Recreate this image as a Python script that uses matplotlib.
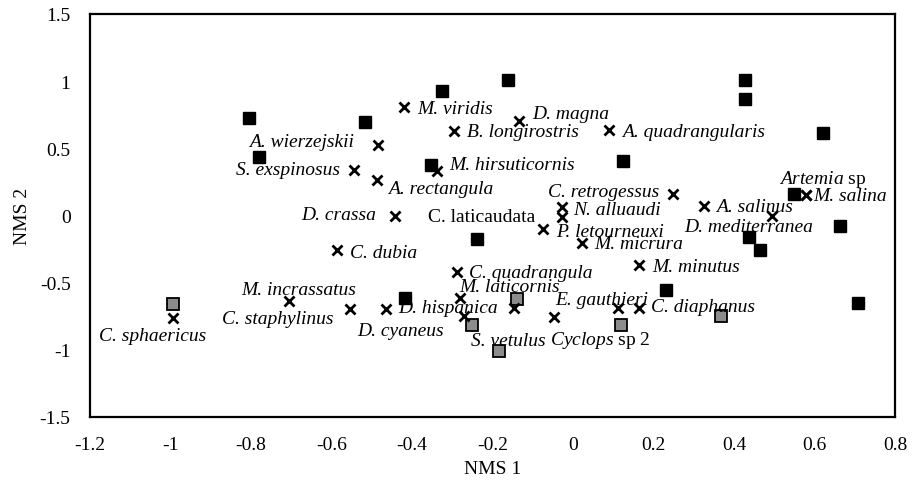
import matplotlib
matplotlib.use("Agg")
import matplotlib.pyplot as plt

plt.rcParams["font.family"] = ["Liberation Serif", "DejaVu Serif"]
plt.rcParams["mathtext.fontset"] = "custom"
plt.rcParams["mathtext.rm"] = "Liberation Serif"
plt.rcParams["mathtext.it"] = "Liberation Serif:italic"

# sample scores (black = group 1, grey = group 2)
site_x = [-0.805, -0.780, -0.517, -0.325, -0.161, -0.353, 0.124, 0.427, 0.427,
          0.621, 0.549, 0.663, 0.437, 0.465, -0.239, -0.417, 0.231, 0.708]
site_y = [0.726, 0.436, 0.696, 0.927, 1.009, 0.376, 0.406, 1.009, 0.867,
          0.614, 0.160, -0.078, -0.160, -0.257, -0.175, -0.614, -0.555, -0.651]
grey_x = [-0.994, -0.251, -0.184, -0.139, 0.119, 0.368]
grey_y = [-0.659, -0.815, -1.009, -0.622, -0.815, -0.748]

# species scores
species = ["M. viridis", "D. magna", "B. longirostris", "A. quadrangularis",
           "A. wierzejskii", "S. exspinosus", "A. rectangula", "M. hirsuticornis",
           "D. crassa", "N. alluaudi", "C. laticaudata", "P. letourneuxi",
           "C. retrogessus", "A. salinus", "D. mediterranea", "M. salina",
           r"$\mathit{Artemia}$ sp", "M. micrura", "M. minutus", "C. dubia",
           "C. quadrangula", "M. laticornis", "D. hispanica", "C. sphaericus",
           "M. incrassatus", "C. staphylinus", "D. cyaneus", "S. vetulus",
           r"$\mathit{Cyclops}$ sp 2", "E. gauthieri", "C. diaphanus"]
sp_x = [-0.420, -0.134, -0.296, 0.089, -0.484, -0.544, -0.487, -0.338,
        -0.442, -0.027, -0.027, -0.075, 0.248, 0.325, 0.494, 0.579,
        0.579, 0.022, 0.164, -0.586, -0.288, -0.281, -0.465, -0.994,
        -0.706, -0.554, -0.271, -0.147, -0.047, 0.112, 0.164]
sp_y = [0.808, 0.703, 0.629, 0.636, 0.525, 0.339, 0.264, 0.331,
        -0.004, 0.063, -0.011, -0.101, 0.160, 0.071, -0.004, 0.153,
        0.153, -0.205, -0.369, -0.257, -0.421, -0.614, -0.696, -0.763,
        -0.637, -0.696, -0.748, -0.689, -0.756, -0.689, -0.689]

# label placement: (dx, dy in pixels, alignment)
label_pos = [(13, -2, "left"), (13, 7, "left"), (13, -1, "left"), (13, -2, "left"),
             (-24, 3, "right"), (-14, 0, "right"), (11, -9, "left"), (12, 6, "left"),
             (-19, 1, "right"), (11, -3, "left"), (-27, 0, "right"), (13, -2, "left"),
             (-14, 2, "right"), (12, -1, "left"), (-23, -11, "center"), (7, -1, "left"),
             (17, 16, "center"), (12, -1, "left"), (13, -1, "left"), (13, -3, "left"),
             (12, 0, "left"), (-1, 11, "left"), (12, 1, "left"), (-20, -18, "center"),
             (10, 12, "center"), (-17, -10, "right"), (-20, -15, "right"), (-6, -32, "center"),
             (-4, -22, "left"), (30, 9, "right"), (12, 2, "left")]
upright = {"C. laticaudata", r"$\mathit{Artemia}$ sp", r"$\mathit{Cyclops}$ sp 2"}

fig = plt.figure(figsize=(9.17, 4.81), dpi=100)
ax = fig.add_axes([0.0981, 0.131, 0.878, 0.838])

ax.plot(site_x, site_y, "s", color="black", markersize=8, linestyle="none")
ax.plot(grey_x, grey_y, "s", markerfacecolor="#8c8c8c", markeredgecolor="black",
        markeredgewidth=1.3, markersize=8, linestyle="none")
ax.plot(sp_x, sp_y, "x", color="black", markersize=7, markeredgewidth=2, linestyle="none")

for name, x, y, (dx, dy, ha) in zip(species, sp_x, sp_y, label_pos):
    ax.annotate(name, (x, y), xytext=(dx, dy), textcoords="offset pixels",
                ha=ha, va="center", fontsize=14,
                fontstyle="normal" if name in upright else "italic",
                annotation_clip=False)

ax.set_xlim(-1.2, 0.8)
ax.set_ylim(-1.5, 1.5)
ax.set_xticks([-1.2, -1, -0.8, -0.6, -0.4, -0.2, 0, 0.2, 0.4, 0.6, 0.8])
ax.set_xticklabels(["-1.2", "-1", "-0.8", "-0.6", "-0.4", "-0.2", "0", "0.2", "0.4", "0.6", "0.8"])
ax.set_yticks([-1.5, -1, -0.5, 0, 0.5, 1, 1.5])
ax.set_yticklabels(["-1.5", "-1", "-0.5", "0", "0.5", "1", "1.5"])
ax.tick_params(length=0, labelsize=14, pad=14)
for s in ax.spines.values():
    s.set_linewidth(1.6)

ax.set_xlabel("NMS 1", fontsize=14, labelpad=4.5)
ax.set_ylabel("NMS 2", fontsize=14, labelpad=6)

fig.savefig("out.png", dpi=100)
